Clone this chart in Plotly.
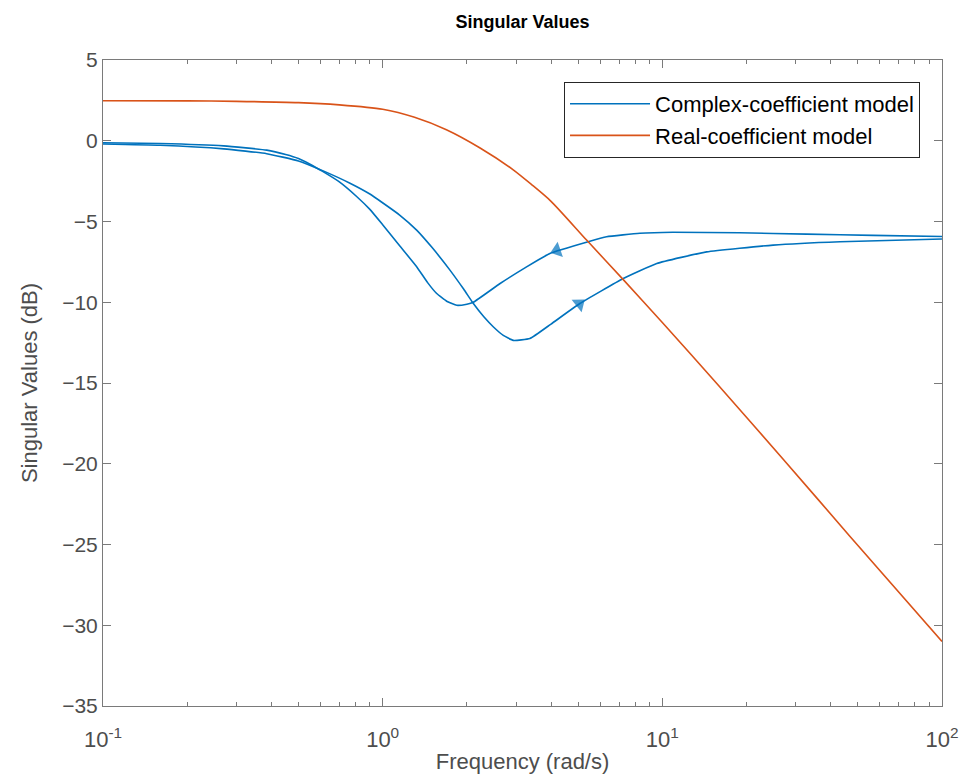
import plotly.graph_objects as go

# ---- data ----
real_freq = [0.1, 0.2, 0.3, 0.5, 0.7, 1.0, 1.3, 1.69, 2.23, 2.93, 3.4, 4.0, 5.36, 7.25, 10.0, 15.6, 27.0, 46.9, 100.0]
real_db   = [2.48, 2.47, 2.44, 2.36, 2.22, 1.95, 1.45, 0.68, -0.45, -1.8, -2.7, -3.75, -6.15, -8.6, -11.25, -15.0, -19.7, -24.5, -31.0]

# complex-coefficient model: branch for negative frequencies (plotted vs |w|)
cneg_freq = [0.1, 0.16, 0.27, 0.385, 0.45, 0.5, 0.55, 0.61, 0.7, 0.807, 0.9, 1.0, 1.15, 1.323, 1.45, 1.56, 1.7, 1.84, 2.0, 2.11,
             2.63, 3.27, 3.96, 5.43, 6.32, 8.31, 10.9, 18.9, 32.8, 56.7, 100.0]
cneg_db   = [-0.12, -0.17, -0.32, -0.58, -0.85, -1.1, -1.45, -1.9, -2.55, -3.45, -4.25, -5.2, -6.5, -7.8, -8.8, -9.46, -9.95, -10.19, -10.12, -10.0,
             -8.84, -7.81, -6.98, -6.25, -5.94, -5.73, -5.67, -5.7, -5.78, -5.86, -5.93]
# branch for positive frequencies
cpos_freq = [0.1, 0.16, 0.27, 0.385, 0.5, 0.61, 0.764, 0.9, 1.005, 1.15, 1.323, 1.5, 1.74, 1.95, 2.11, 2.3, 2.49, 2.7, 2.93, 3.36,
             4.0, 5.07, 7.25, 9.55, 14.4, 24.9, 43.2, 100.0]
cpos_db   = [-0.2, -0.28, -0.5, -0.8, -1.25, -1.85, -2.63, -3.3, -3.87, -4.6, -5.53, -6.6, -8.01, -9.2, -10.08, -10.9, -11.53, -12.05, -12.36, -12.25,
             -11.35, -10.08, -8.53, -7.6, -6.88, -6.46, -6.25, -6.08]

# arrow heads (previous point, arrow point) along each branch
arrow_neg_freq = [4.5, 4.2]
arrow_neg_db = [-6.62, -6.8]
arrow_pos_freq = [4.8, 5.05]
arrow_pos_db = [-10.4, -10.1]

xtick_vals = [0.1, 1, 10, 100]
xtick_text = ["10<sup>-1</sup>", "10<sup>0</sup>", "10<sup>1</sup>", "10<sup>2</sup>"]
xminor_vals = [m * 10**e for e in (-1, 0, 1) for m in range(2, 10)]
ytick_vals = [5, 0, -5, -10, -15, -20, -25, -30, -35]

BLUE = "#0072BD"
ORANGE = "#D95319"
AX = "#262626"
TXT = "#4d4d4d"
GRAYAX = "#7a7a7a"
FONT = "Liberation Sans, Arial, sans-serif"

fig = go.Figure()
fig.add_trace(go.Scatter(x=cneg_freq, y=cneg_db, mode="lines", name="Complex-coefficient model",
                         line=dict(color=BLUE, width=1.6, shape="spline", smoothing=0.4),
                         legendgroup="c", showlegend=True))
fig.add_trace(go.Scatter(x=cpos_freq, y=cpos_db, mode="lines", name="Complex-coefficient model",
                         line=dict(color=BLUE, width=1.6, shape="spline", smoothing=0.4),
                         legendgroup="c", showlegend=False))
fig.add_trace(go.Scatter(x=real_freq, y=real_db, mode="lines", name="Real-coefficient model",
                         line=dict(color=ORANGE, width=1.6, shape="spline", smoothing=0.7)))
for fx, fy in ((arrow_neg_freq, arrow_neg_db), (arrow_pos_freq, arrow_pos_db)):
    fig.add_trace(go.Scatter(x=fx, y=fy, mode="markers", showlegend=False, hoverinfo="skip",
                             marker=dict(symbol="triangle-up", size=[0, 14], color=BLUE,
                                         angleref="previous", line=dict(width=0))))

fig.update_layout(
    width=969, height=780,
    margin=dict(l=103, r=27, t=60, b=74, autoexpand=False),
    paper_bgcolor="white", plot_bgcolor="white",
    font=dict(family=FONT, size=20, color=TXT),
    title=dict(text="<b>Singular Values</b>", x=(103 + 942) / 2 / 969, xanchor="center",
               y=1 - 22 / 780, yanchor="middle", font=dict(size=18, color="#000000", family=FONT)),
    legend=dict(x=0.9738, xanchor="right", y=0.966, yanchor="top",
                bgcolor="white", bordercolor=AX, borderwidth=1,
                font=dict(size=22, color="#000000", family=FONT),
                itemwidth=80, tracegroupgap=0),
    showlegend=True,
)
fig.update_xaxes(type="log", range=[-1, 2], tickvals=xtick_vals, ticktext=xtick_text,
                 showgrid=False, zeroline=False, showline=True, linecolor=GRAYAX, linewidth=1,
                 mirror="allticks", ticks="inside", ticklen=8, tickcolor=GRAYAX,
                 ticklabelstandoff=14, automargin=False,
                 tickfont=dict(size=22, color=TXT),
                 minor=dict(tickvals=xminor_vals, ticks="inside", ticklen=4, tickcolor=GRAYAX, showgrid=False),
                 title=dict(text="Frequency (rad/s)", font=dict(size=22, color=TXT), standoff=2))
fig.update_yaxes(range=[-35, 5], tickvals=ytick_vals,
                 showgrid=False, zeroline=False, showline=True, linecolor=GRAYAX, linewidth=1,
                 mirror="allticks", ticks="inside", ticklen=8, tickcolor=GRAYAX,
                 automargin=False,
                 tickfont=dict(size=21, color=TXT),
                 title=dict(text="Singular Values (dB)", font=dict(size=22, color=TXT), standoff=18))

fig.write_html("out.html", config={"displayModeBar": False},
               post_script="document.body.style.margin='0px';")
